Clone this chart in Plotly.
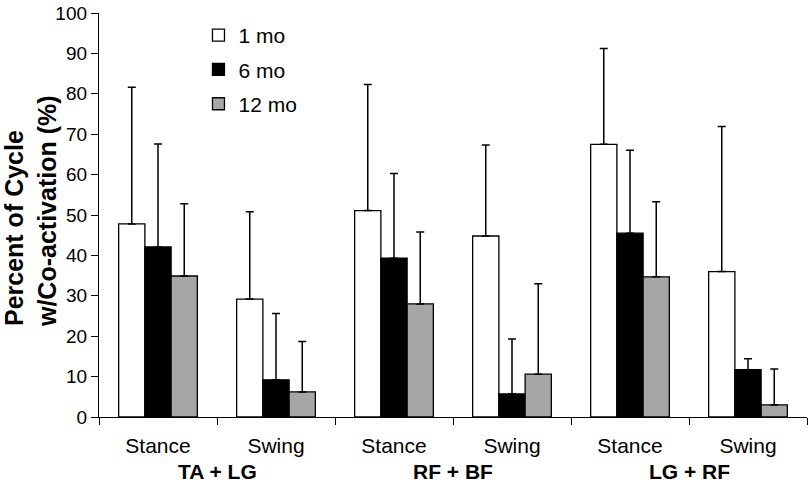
import plotly.graph_objects as go

phases = ["Stance", "Swing", "Stance", "Swing", "Stance", "Swing"]
muscle_pairs = ["TA + LG", "RF + BF", "LG + RF"]
series_names = ["1 mo", "6 mo", "12 mo"]

mean_1mo = [47.8, 29.2, 51.1, 44.8, 67.5, 36.0]
mean_6mo = [42.1, 9.2, 39.3, 5.7, 45.5, 11.7]
mean_12mo = [34.9, 6.2, 28.0, 10.6, 34.7, 3.0]

sd_1mo = [33.8, 21.6, 31.2, 22.5, 23.7, 35.9]
sd_6mo = [25.5, 16.4, 21.0, 13.6, 20.5, 2.7]
sd_12mo = [17.9, 12.5, 17.8, 22.4, 18.6, 8.9]

y_ticks = [0, 10, 20, 30, 40, 50, 60, 70, 80, 90, 100]

colors = ["#ffffff", "#000000", "#a6a6a6"]
means = [mean_1mo, mean_6mo, mean_12mo]
sds = [sd_1mo, sd_6mo, sd_12mo]

FONT = "Arial, Liberation Sans, Helvetica, sans-serif"
xpos = list(range(len(phases)))

fig = go.Figure()
for name, m, s, c in zip(series_names, means, sds, colors):
    fig.add_trace(go.Bar(
        name=name, x=xpos, y=m, legendgroup=name,
        marker=dict(color=c, line=dict(color="#000000", width=1.3)),
        error_y=dict(type="data", array=s, arrayminus=[0] * len(s), symmetric=False,
                     color="#000000", thickness=1.5, width=4),
    ))

boundaries = [i - 0.5 for i in range(len(phases) + 1)]
group_centers = [0.5, 2.5, 4.5]

annotations = []
for gx, label in zip(group_centers, muscle_pairs):
    annotations.append(dict(
        x=gx, y=0, xref="x", yref="paper", yanchor="top", yshift=-41,
        text="<b>" + label + "</b>", showarrow=False,
        font=dict(family=FONT, size=21, color="#000000"),
    ))
annotations.append(dict(
    x=-0.0965, y=0.509, xref="paper", yref="paper", xanchor="center", yanchor="middle",
    text="<b>Percent of Cycle<br>w/Co-activation (%)</b>", textangle=-90, showarrow=False,
    align="left", borderpad=0, font=dict(family=FONT, size=25, color="#000000"),
))

fig.update_layout(
    width=809, height=487,
    margin=dict(l=99, r=2, t=13, b=70),
    paper_bgcolor="#ffffff", plot_bgcolor="#ffffff",
    barmode="group", bargap=0.333, bargroupgap=0,
    font=dict(family=FONT, color="#000000"),
    showlegend=True,
    legend=dict(x=0.1405, y=0.995, xanchor="left", yanchor="top",
                bgcolor="rgba(0,0,0,0)", font=dict(family=FONT, size=21),
                tracegroupgap=4, itemwidth=30, traceorder="grouped"),
    annotations=annotations,
    xaxis=dict(
        range=[-0.5, 5.5], tickmode="array", tickvals=xpos, ticktext=phases,
        ticks="", showgrid=False, zeroline=False, ticklabelstandoff=10,
        showline=True, linecolor="#000000", linewidth=1.3,
        tickfont=dict(family=FONT, size=21, color="#000000"),
        minor=dict(tickmode="array", tickvals=boundaries, ticks="outside",
                   ticklen=7, tickcolor="#000000", tickwidth=1.3, showgrid=False),
        fixedrange=True,
    ),
    yaxis=dict(
        range=[0, 100], tickmode="array", tickvals=y_ticks,
        ticks="outside", ticklen=7, tickcolor="#000000", tickwidth=1.3,
        showgrid=False, zeroline=False,
        showline=True, linecolor="#000000", linewidth=1.3,
        tickfont=dict(family=FONT, size=19, color="#000000"),
        fixedrange=True,
    ),
)

fig.write_html("out.html", config={"displayModeBar": False},
               post_script="document.body.style.margin='0px';")
